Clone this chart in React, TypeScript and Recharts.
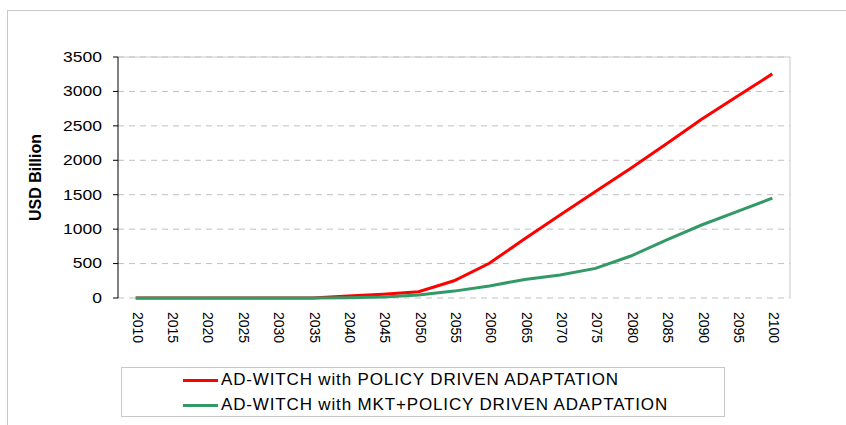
import React from "react";
import { LineChart, Line, XAxis, YAxis, CartesianGrid, ReferenceLine } from "recharts";

const years = [
  "2010", "2015", "2020", "2025", "2030", "2035", "2040", "2045", "2050", "2055",
  "2060", "2065", "2070", "2075", "2080", "2085", "2090", "2095", "2100",
];
const policyDriven = [0, 0, 0, 0, 0, 0, 30, 55, 90, 250, 505, 860, 1205, 1545, 1885, 2235, 2595, 2925, 3255];
const mktPolicyDriven = [0, 0, 0, 0, 0, 0, 5, 15, 45, 100, 175, 270, 335, 430, 610, 840, 1060, 1255, 1450];
const yTicks = [0, 500, 1000, 1500, 2000, 2500, 3000, 3500];
const seriesNames = [
  "AD-WITCH with POLICY DRIVEN ADAPTATION",
  "AD-WITCH with MKT+POLICY DRIVEN ADAPTATION",
];
const seriesColors = ["#ff0000", "#339966"];

const FONT = "'Liberation Sans', Arial, sans-serif";

document.body.style.margin = "0";

const data = years.map((year, i) => ({
  idx: i,
  year,
  policy: policyDriven[i],
  mkt: mktPolicyDriven[i],
}));
const centers = years.map((_, i) => i);
const edges = [...years.map((_, i) => i - 0.5), years.length - 0.5];
const xDomain = [-0.5, years.length - 0.5];

function YearTick({ x, y, payload }: any) {
  return (
    <text
      transform={`translate(${x + 2},${y + 12}) rotate(90)`}
      textAnchor="start"
      dominantBaseline="central"
      fontSize={14}
      fontFamily={FONT}
      fill="#000"
    >
      {years[payload.value]}
    </text>
  );
}

function ValueTick({ x, y, payload }: any) {
  return (
    <text
      transform={`translate(${x},${y}) scale(1.25,1)`}
      textAnchor="end"
      dominantBaseline="central"
      fontSize={14}
      fontFamily={FONT}
      fill="#000"
    >
      {payload.value}
    </text>
  );
}

function AxisTitle({ viewBox }: any) {
  const cx = viewBox.x + 17;
  const cy = viewBox.y + viewBox.height / 2;
  return (
    <text
      transform={`translate(${cx},${cy}) rotate(-90)`}
      textAnchor="middle"
      dominantBaseline="central"
      fontSize={16}
      fontWeight="bold"
      fontFamily={FONT}
      fill="#000"
    >
      USD Billion
    </text>
  );
}

export default function App() {
  return (
    <div
      style={{
        position: "relative",
        width: 846,
        height: 425,
        overflow: "hidden",
        background: "#fff",
        fontFamily: FONT,
      }}
    >
      <div
        style={{
          position: "absolute",
          left: 7,
          top: 10,
          width: 900,
          height: 500,
          borderTop: "1px solid #c8c8c8",
          borderLeft: "1px solid #c8c8c8",
        }}
      />
      <div style={{ position: "absolute", left: 0, top: 0 }}>
        <LineChart
          width={846}
          height={425}
          data={data}
          margin={{ top: 57, right: 56, bottom: 87, left: 18 }}
        >
          <CartesianGrid vertical={false} stroke="#c0c0c0" strokeDasharray="6 5" />
          <XAxis
            xAxisId="edges"
            dataKey="idx"
            type="number"
            domain={xDomain}
            ticks={edges}
            allowDecimals
            height={0}
            tick={false}
            tickSize={5}
            tickLine={{ stroke: "#000" }}
            axisLine={{ stroke: "#000" }}
          />
          <XAxis
            dataKey="idx"
            type="number"
            domain={xDomain}
            ticks={centers}
            interval={0}
            height={40}
            tickSize={0}
            tickLine={false}
            axisLine={false}
            tick={<YearTick />}
          />
          <YAxis
            domain={[0, 3500]}
            ticks={yTicks}
            width={100}
            tickSize={5}
            tickMargin={11}
            tickLine={{ stroke: "#000" }}
            axisLine={{ stroke: "#000" }}
            tick={<ValueTick />}
            label={{ content: <AxisTitle /> }}
          />
          <ReferenceLine xAxisId="edges" x={years.length - 0.5} stroke="#c8c8c8" />
          <ReferenceLine xAxisId="edges" y={3500} stroke="#c8c8c8" />
          <Line
            dataKey="policy"
            name={seriesNames[0]}
            stroke={seriesColors[0]}
            strokeWidth={3}
            dot={false}
            type="linear"
            isAnimationActive={false}
          />
          <Line
            dataKey="mkt"
            name={seriesNames[1]}
            stroke={seriesColors[1]}
            strokeWidth={3}
            dot={false}
            type="linear"
            isAnimationActive={false}
          />
        </LineChart>
      </div>
      <div
        style={{
          position: "absolute",
          left: 121,
          top: 367,
          width: 604,
          height: 50,
          border: "1px solid #c8c8c8",
          boxSizing: "border-box",
        }}
      >
        {seriesNames.map((name, i) => (
          <div
            key={name}
            style={{
              position: "absolute",
              left: 61,
              top: i === 0 ? 2 : 27,
              height: 20,
              display: "flex",
              alignItems: "center",
              whiteSpace: "nowrap",
            }}
          >
            <span
              style={{
                display: "inline-block",
                width: 35,
                height: 3,
                background: seriesColors[i],
                marginRight: 3,
              }}
            />
            <span style={{ fontSize: 17, color: "#000", letterSpacing: 0.85 }}>{name}</span>
          </div>
        ))}
      </div>
    </div>
  );
}
